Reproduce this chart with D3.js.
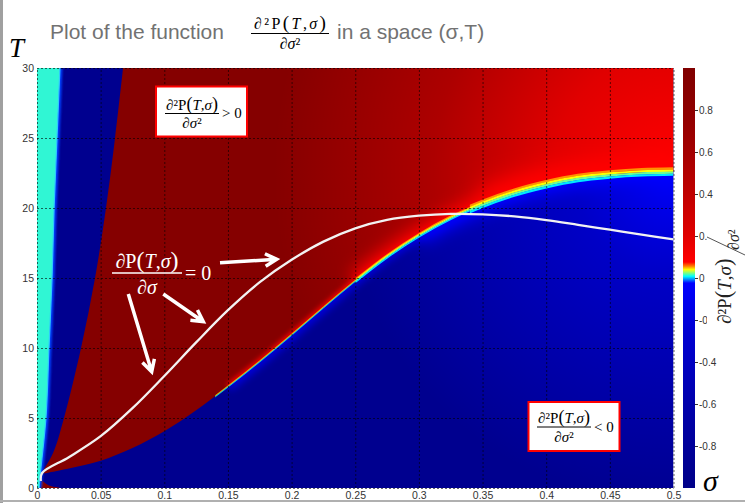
<!DOCTYPE html>
<html><head><meta charset="utf-8">
<script src="https://cdn.jsdelivr.net/npm/d3@7"></script>
<style>body{margin:0;background:#fff}svg{display:block}</style>
</head><body>
<script>
// ---------- data ----------
const xTicks=[0,0.05,0.1,0.15,0.2,0.25,0.3,0.35,0.4,0.45,0.5];
const xTickLabels=["0","0.05","0.1","0.15","0.2","0.25","0.3","0.35","0.4","0.45","0.5"];
const yTicks=[0,5,10,15,20,25,30];
const yTickLabels=["0","5","10","15","20","25","30"];
const cbTicks=[0.8,0.6,0.4,0.2,0,-0.2,-0.4,-0.6,-0.8];
const cbTickLabels=["0.8","0.6","0.4","0.2","0","-0.2","-0.4","-0.6","-0.8"];

// cyan strip boundary (sigma vs T)
const cyanSigma=[0.0016,0.0026,0.0070,0.0094,0.0118,0.0134,0.0157,0.0180];
const cyanT=[0,1,5,10,15,20,25,30];
// left boundary of the positive (red) region
const leftSigma=[0.003,0.0126,0.0212,0.0346,0.0456,0.0542,0.0613,0.0676];
const leftT=[1.0,2.5,5,10,15,20,25,30];
// lower boundary of the positive region (d2P/ds2 = 0)
const lowerSigma=[0.003,0.025,0.05,0.075,0.1,0.125,0.15,0.175,0.2,0.225,0.25,0.275,0.3,0.325,0.35,0.375,0.4,0.425,0.45,0.475,0.5];
const lowerT=[1.0,1.4,1.95,2.85,4.05,5.55,7.25,9.05,10.95,12.9,14.8,16.55,18.05,19.3,20.3,21.1,21.7,22.15,22.4,22.55,22.6];
// small positive sliver at the bottom left
const sliverSigma=[0.003,0.009,0.018,0.003];
const sliverT=[0.6,0.2,0,0];
// dP/ds = 0 curve (white)
const whiteSigma=[0.003,0.004,0.025,0.05,0.075,0.1,0.125,0.15,0.175,0.2,0.225,0.25,0.275,0.3,0.325,0.35,0.375,0.4,0.425,0.45,0.475,0.5];
const whiteT=[0.5,1.07,2.2,3.7,5.7,8.0,10.4,12.7,14.7,16.3,17.6,18.55,19.15,19.45,19.58,19.55,19.4,19.14,18.8,18.45,18.1,17.76];

// ---------- setup ----------
const W=745,H=503;
const x=d3.scaleLinear().domain([0,0.5]).range([37,673.5]);
const y=d3.scaleLinear().domain([0,30]).range([488,68]);
const cb=d3.scaleLinear().domain([-1,1]).range([488,68]);
const X0=x(0),X1=x(0.5),Y0=y(30),Y1=y(0);
const SERIF="'Liberation Serif','Times New Roman',serif";

const svg=d3.select("body").append("svg").attr("width",W).attr("height",H)
  .style("font-family","Arial,'Liberation Sans',sans-serif");
const defs=svg.append("defs");

const pts=(S,T)=>S.map((s,i)=>[x(s),y(T[i])]);
const cr=d3.line().curve(d3.curveCatmullRom.alpha(0.5));
const cont=p=>cr(p).replace(/^M/,"L");

const leftP=pts(leftSigma,leftT), lowP=pts(lowerSigma,lowerT), cyanP=pts(cyanSigma,cyanT), whiteP=pts(whiteSigma,whiteT);
const redD=cr(leftP)+`L${X1},${Y0}`+cont(lowP.slice().reverse())+"Z";
const blueD=cr(lowP)+`L${X1},${Y1}L${X0},${Y1}Z`;
const cyanD=`M${X0},${Y1}`+cont(cyanP)+`L${X0},${Y0}Z`;
const sub=(S,T,lo)=>pts(S.filter(s=>s>=lo),T.filter((t,i)=>S[i]>=lo));

defs.append("clipPath").attr("id","cPlot").append("rect").attr("x",X0).attr("y",Y0).attr("width",X1-X0).attr("height",Y1-Y0);
defs.append("clipPath").attr("id","cRed").append("path").attr("d",redD);
defs.append("clipPath").attr("id","cBlue").append("path").attr("d",blueD);
function blur(id,sd){
  defs.append("filter").attr("id",id).attr("filterUnits","userSpaceOnUse")
    .attr("x",0).attr("y",0).attr("width",W).attr("height",H)
    .append("feGaussianBlur").attr("stdDeviation",sd);
}
blur("b1",1.2);blur("b2",2.5);blur("b4",4);blur("b8",8);blur("b12",12);
function radial(id,cx,cy,r,color,stops){
  const g=defs.append("radialGradient").attr("id",id).attr("gradientUnits","userSpaceOnUse")
    .attr("cx",cx).attr("cy",cy).attr("r",r);
  stops.forEach(([o,a])=>g.append("stop").attr("offset",o).attr("stop-color",color).attr("stop-opacity",a));
}
radial("redRad",X1,y(22.6),400,"#ff0000",[[0,1],[0.3,0.75],[0.6,0.33],[1,0]]);
radial("blueRad",X1,y(22.4),330,"#0000ff",[[0,0.95],[0.3,0.5],[1,0]]);

// colormap for colorbar
const cmapStops=[[0,"#800000"],[0.1,"#8e0000"],[0.2,"#a40000"],[0.3,"#c00000"],[0.4,"#e00000"],
 [0.462,"#ff0000"],[0.472,"#ff8000"],[0.48,"#ffff00"],[0.488,"#80ff80"],[0.496,"#00ffff"],
 [0.503,"#0090ff"],[0.512,"#0000ff"],[0.62,"#0000d4"],[0.8,"#0000ac"],[1,"#000088"]];
const lg=defs.append("linearGradient").attr("id","cmap").attr("x1",0).attr("y1",0).attr("x2",0).attr("y2",1);
cmapStops.forEach(([o,c])=>lg.append("stop").attr("offset",o).attr("stop-color",c));

// ---------- frame ----------
svg.append("rect").attr("x",0).attr("y",0).attr("width",3).attr("height",H).attr("fill","#a0a0a0");
svg.append("rect").attr("x",0).attr("y",500).attr("width",W).attr("height",2).attr("fill","#b0b0b0");

// ---------- heat map ----------
const P=svg.append("g").attr("clip-path","url(#cPlot)");
P.append("rect").attr("x",X0).attr("y",Y0).attr("width",X1-X0).attr("height",Y1-Y0).attr("fill","#00008f");
const gb=P.append("g").attr("clip-path","url(#cBlue)");
gb.append("rect").attr("x",X0).attr("y",Y0).attr("width",X1-X0).attr("height",Y1-Y0).attr("fill","url(#blueRad)");
gb.append("path").attr("d",cr(sub(lowerSigma,lowerT,0.14))).attr("fill","none").attr("stroke","#0000ff").attr("stroke-width",8).attr("filter","url(#b4)").attr("opacity",0.9);
gb.append("path").attr("d",cr(sub(lowerSigma,lowerT,0.3))).attr("fill","none").attr("stroke","#0000ff").attr("stroke-width",20).attr("filter","url(#b8)");

P.append("path").attr("d",redD).attr("fill","#850000");
const gr=P.append("g").attr("clip-path","url(#cRed)");
gr.append("rect").attr("x",X0).attr("y",Y0).attr("width",X1-X0).attr("height",Y1-Y0).attr("fill","url(#redRad)");
gr.append("path").attr("d",cr(sub(lowerSigma,lowerT,0.15))).attr("fill","none").attr("stroke","#ff0000").attr("stroke-width",5).attr("filter","url(#b2)");
gr.append("path").attr("d",cr(sub(lowerSigma,lowerT,0.24))).attr("fill","none").attr("stroke","#ff0000").attr("stroke-width",16).attr("filter","url(#b8)");
gr.append("path").attr("d",cr(sub(lowerSigma,lowerT,0.33))).attr("fill","none").attr("stroke","#ff0000").attr("stroke-width",30).attr("filter","url(#b12)");

P.append("path").attr("d",cr(pts(sliverSigma,sliverT))+"Z").attr("fill","#850000");

// cyan strip
P.append("path").attr("d",cr(cyanP)).attr("fill","none").attr("stroke","#0040ff").attr("stroke-width",5).attr("filter","url(#b1)");
P.append("path").attr("d",cyanD).attr("fill","#30f6d4");
P.append("path").attr("d",cr(cyanP)).attr("fill","none").attr("stroke","#30c8ff").attr("stroke-width",1.2);

// transition band along the zero line
const bandCols=["#ff9000","#ffff00","#70ff90","#00e8ff"];
const band=(lo,hi,k,w)=>{
  const gg=P.append("g");
  const cid="cb"+lo;
  defs.append("clipPath").attr("id",cid).append("rect").attr("x",x(lo)).attr("y",Y0).attr("width",x(hi)-x(lo)).attr("height",Y1-Y0);
  gg.attr("clip-path",`url(#${cid})`);
  [-1.5,-0.5,0.5,1.5].forEach((o,i)=>gg.append("path").attr("d",cr(lowP)).attr("fill","none")
     .attr("stroke",bandCols[i]).attr("stroke-width",w).attr("transform",`translate(0,${o*k})`));
};
band(0.14,0.25,0.5,0.6);
band(0.25,0.34,1.1,1.2);
band(0.34,0.5,2.1,2.2);

// ---------- axes / grid ----------
const gy=svg.append("g").attr("transform",`translate(${X0},0)`)
  .call(d3.axisLeft(y).tickValues(yTicks).tickFormat((d,i)=>yTickLabels[i]).tickSize(-(X1-X0)).tickPadding(3));
const gx=svg.append("g").attr("transform",`translate(0,${Y1})`)
  .call(d3.axisBottom(x).tickValues(xTicks).tickFormat((d,i)=>xTickLabels[i]).tickSize(-(Y1-Y0)).tickPadding(4));
[gx,gy].forEach(g=>{
  g.select(".domain").remove();
  g.selectAll(".tick line").attr("stroke","#000").attr("stroke-opacity",0.6).attr("stroke-dasharray","2,2");
  g.selectAll(".tick text").attr("fill","#333").style("font-size","10.5px").style("font-family","Arial,'Liberation Sans',sans-serif");
});

// white dP/ds = 0 curve
svg.append("path").attr("clip-path","url(#cPlot)").attr("d",cr(whiteP)).attr("fill","none")
  .attr("stroke","#f2f2f2").attr("stroke-width",2.3);

// ---------- colorbar ----------
svg.append("rect").attr("x",683).attr("y",cb(1)).attr("width",12).attr("height",cb(-1)-cb(1)).attr("fill","url(#cmap)");
const gc=svg.append("g").attr("transform","translate(695,0)")
  .call(d3.axisRight(cb).tickValues(cbTicks).tickFormat((d,i)=>cbTickLabels[i]).tickSize(3).tickPadding(1));
gc.select(".domain").remove();
gc.selectAll(".tick line").attr("stroke","#333");
gc.selectAll(".tick text").attr("fill","#333").style("font-size","10px").style("font-family","Arial,'Liberation Sans',sans-serif");

// ---------- math text helper ----------
const num2=[["∂²P",0],["(",2],["T",1],[",",0],["σ",1],[")",2]];
const den2=[["∂",0],["σ",1],["²",0]];
const num1=[["∂P",0],["(",2],["T",1],[",",0],["σ",1],[")",2]];
const den1=[["∂",0],["σ",1]];
function mtext(g,parts,xx,yy,size,color,anchor,transform,len){
  const t=g.append("text").attr("x",xx).attr("y",yy).attr("font-family",SERIF).attr("font-size",size)
    .attr("fill",color).attr("text-anchor",anchor||"middle");
  if(transform) t.attr("transform",transform);
  if(len) t.attr("textLength",len).attr("lengthAdjust","spacing");
  parts.forEach(([s,it])=>{
    const sp=t.append("tspan").text(s).attr("font-style",it===1?"italic":"normal");
    if(it===2) sp.attr("font-size",size*1.2).attr("font-weight",300);
  });
  return t;
}
function frac(g,o){
  mtext(g,o.num,o.cx,o.yNum,o.size,o.color,"middle",null,o.len);
  g.append("line").attr("x1",o.lx1).attr("x2",o.lx2).attr("y1",o.yLine).attr("y2",o.yLine).attr("stroke",o.color).attr("stroke-width",o.lw||1);
  mtext(g,o.den,o.cx,o.yDen,o.size,o.color);
  if(o.suffix) g.append("text").attr("x",o.sx).attr("y",o.sy).attr("font-family",SERIF).attr("font-size",o.size).attr("fill",o.color).text(o.suffix);
}

// ---------- title ----------
svg.append("text").attr("x",50).attr("y",39).attr("fill","#727272").style("font-size","21px").text("Plot of the function");
frac(svg,{num:num2,den:den2,cx:290,yNum:29,yLine:33.5,yDen:49,lx1:251,lx2:329,size:16,color:"#000",len:72});
svg.append("text").attr("x",337).attr("y",39).attr("fill","#727272").style("font-size","21px").text("in a space (σ,T)");
svg.append("text").attr("x",9).attr("y",57).attr("font-family",SERIF).attr("font-style","italic").attr("font-size",27).text("T");
svg.append("text").attr("x",703).attr("y",491).attr("font-family",SERIF).attr("font-style","italic").attr("font-size",30).text("σ");

// ---------- annotations ----------
const A=svg.append("g");
A.append("rect").attr("x",156).attr("y",86.5).attr("width",91).attr("height",50).attr("fill","#fff").attr("stroke","#ff0000").attr("stroke-width",2);
frac(A,{num:num2,den:den2,cx:192,yNum:110,yLine:113.5,yDen:128,lx1:165,lx2:219,size:15,color:"#000",suffix:"> 0",sx:222,sy:118});
A.append("rect").attr("x",528.5).attr("y",402).attr("width",91).attr("height",49).attr("fill","#fff").attr("stroke","#ff0000").attr("stroke-width",2);
frac(A,{num:num2,den:den2,cx:564,yNum:423,yLine:427,yDen:442,lx1:537,lx2:591,size:15,color:"#000",suffix:"< 0",sx:594,sy:432});

frac(A,{num:num1,den:den1,cx:147,yNum:268,yLine:273,yDen:294,lx1:112,lx2:182,size:20,color:"#fff",lw:1.3,suffix:"= 0",sx:185,sy:280});
function arrow(x1,y1,x2,y2){
  const a=Math.atan2(y2-y1,x2-x1),L=13,sp=0.5;
  const w1=[x2-L*Math.cos(a-sp),y2-L*Math.sin(a-sp)], w2=[x2-L*Math.cos(a+sp),y2-L*Math.sin(a+sp)];
  A.append("path").attr("d",`M${x1},${y1}L${x2},${y2}M${w1}L${x2},${y2}L${w2}`)
    .attr("fill","none").attr("stroke","#fff").attr("stroke-width",3.5).attr("stroke-linecap","butt").attr("stroke-linejoin","miter");
}
arrow(220,262.7,276.7,259.3);
arrow(163.3,294,203.3,321.7);
arrow(128.3,294,151.7,371.7);

// ---------- colorbar label ----------
const C=svg.append("g");
C.append("rect").attr("x",707).attr("y",218).attr("width",38).attr("height",114).attr("fill","#fff");
mtext(C,num2,0,0,19,"#222","start","translate(731,324) rotate(-90)");
C.append("line").attr("x1",707).attr("y1",237).attr("x2",745).attr("y2",255).attr("stroke","#555").attr("stroke-width",1);
mtext(C,den2,0,0,16,"#222","start","translate(739,250) rotate(-90)");
</script>
</body></html>
